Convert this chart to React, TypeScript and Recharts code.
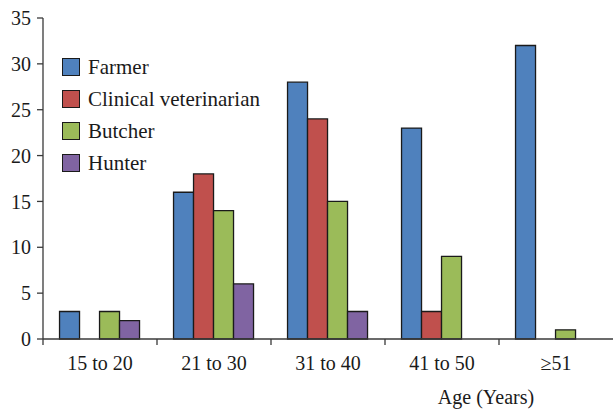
import React from 'react';
import { BarChart, Bar, XAxis, YAxis, Legend, Label } from 'recharts';

const categories = ['15 to 20', '21 to 30', '31 to 40', '41 to 50', '≥51'];
const farmer = [3, 16, 28, 23, 32];
const clinicalVet = [0, 18, 24, 3, 0];
const butcher = [3, 14, 15, 9, 1];
const hunter = [2, 6, 3, 0, 0];
const yTicks = [0, 5, 10, 15, 20, 25, 30, 35];

const seriesNames = ['Farmer', 'Clinical veterinarian', 'Butcher', 'Hunter'];
const seriesKeys = ['farmer', 'vet', 'butcher', 'hunter'];
const seriesColors = ['#4F81BD', '#C0504D', '#9BBB59', '#8064A2'];

const data = categories.map((c, i) => ({
  category: c,
  farmer: farmer[i],
  vet: clinicalVet[i],
  butcher: butcher[i],
  hunter: hunter[i],
}));

const FONT = "'Liberation Serif', 'Times New Roman', serif";
const AXIS = '#3a3a3a';

const XTick = (props: any) => {
  const { x, y, payload } = props;
  const off = payload && payload.offset != null ? payload.offset : 57;
  return (
    <g>
      <line x1={x - off} y1={y - 6} x2={x - off} y2={y} stroke={AXIS} strokeWidth={1.3} />
      <text x={x} y={y} dy={25} textAnchor="middle" style={{ fontFamily: FONT, fontSize: 20 }} fill="#1a1a1a">
        {payload.value}
      </text>
    </g>
  );
};

const LegendContent = (props: any) => {
  const payload = [...(props.payload || [])].sort(
    (a: any, b: any) => seriesNames.indexOf(a.value) - seriesNames.indexOf(b.value)
  );
  return (
    <div style={{ fontFamily: FONT, fontSize: 21, color: '#1a1a1a' }}>
      {payload.map((p: any, i: number) => (
        <div key={i} style={{ display: 'flex', alignItems: 'center', height: 32 }}>
          <span
            style={{
              display: 'inline-block',
              width: 16,
              height: 16,
              background: p.color,
              border: '1.5px solid #1a1a1a',
              marginRight: 8,
            }}
          />
          <span>{p.value}</span>
        </div>
      ))}
    </div>
  );
};

export default function App() {
  return (
    <div style={{ position: 'absolute', left: 0, top: 0, background: '#fff' }}>
      <BarChart
        width={613}
        height={412}
        data={data}
        margin={{ top: 18, right: 0, left: 0, bottom: 0 }}
        barGap={0}
        barCategoryGap="14.5%"
      >
        <YAxis
          width={43}
          domain={[0, 35]}
          ticks={yTicks}
          interval={0}
          tickSize={6}
          tickMargin={6}
          stroke={AXIS}
          strokeWidth={1.3}
          tick={{ style: { fontFamily: FONT, fontSize: 20 }, fill: '#1a1a1a' }}
        />
        <XAxis
          dataKey="category"
          height={73}
          interval={0}
          tickSize={6}
          tickMargin={0}
          tickLine={false}
          stroke={AXIS}
          strokeWidth={1.3}
          tick={<XTick />}
        >
          <Label
            value="Age (Years)"
            position="insideBottom"
            offset={8}
            dx={158}
            style={{ fontFamily: FONT, fontSize: 20, fill: '#1a1a1a' }}
          />
        </XAxis>
        <Legend
          layout="vertical"
          align="center"
          verticalAlign="middle"
          content={<LegendContent />}
          wrapperStyle={{ position: 'absolute', left: 62, top: 51, width: 'auto', height: 'auto' }}
        />
        {seriesKeys.map((k, i) => (
          <Bar
            key={k}
            dataKey={k}
            name={seriesNames[i]}
            fill={seriesColors[i]}
            stroke="#1a1a1a"
            strokeWidth={1.3}
            isAnimationActive={false}
          />
        ))}
      </BarChart>
    </div>
  );
}
